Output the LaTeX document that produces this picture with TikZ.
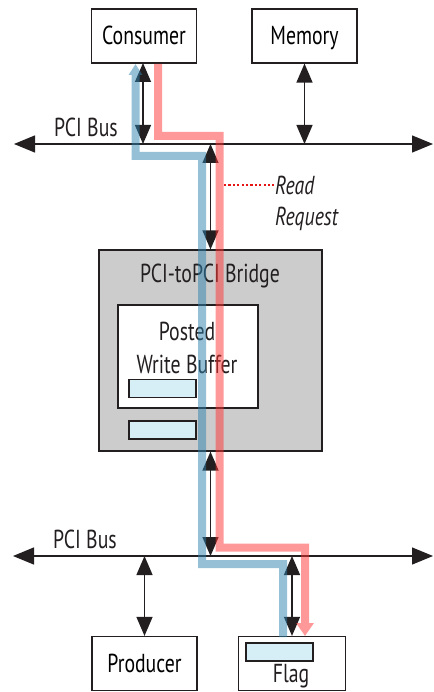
\documentclass[tikz,border=0pt]{standalone}
\usepackage{fontspec}
\setmainfont{PT Sans}[FakeStretch=0.76]
\usetikzlibrary{arrows.meta}
\definecolor{ink}{RGB}{35,31,32}
\definecolor{bridgegray}{RGB}{204,204,204}
\definecolor{cellblue}{RGB}{214,238,245}
\definecolor{pathblue}{RGB}{45,129,173}
\definecolor{pathred}{RGB}{255,51,51}
\definecolor{dotred}{RGB}{230,20,20}
\begin{document}
\begin{tikzpicture}[x=1pt,y=-1pt,
  font=\fontsize{26}{29}\selectfont,
  box/.style={draw=ink, line width=1.2pt, fill=white, minimum width=105pt, minimum height=54pt,
    inner sep=0pt, text height=17pt, text depth=0pt},
  cell/.style={draw=ink, line width=1.2pt, fill=cellblue, minimum width=67pt, minimum height=18pt, inner sep=0pt},
  lbl/.style={anchor=base, inner sep=0pt, text=ink},
  bus/.style={draw=ink, line width=1.3pt, {Triangle[width=17pt,length=21pt]}-{Triangle[width=17pt,length=21pt]}},
  dbl/.style={draw=ink, line width=1.3pt, {Triangle[width=16pt,length=19pt]}-{Triangle[width=16pt,length=19pt]}},
  bluepath/.style={draw=pathblue, line width=8pt},
  redpath/.style={draw=pathred, line width=8pt},
]
\useasboundingbox (0,0) rectangle (433,692);

% boxes
\node[box] (cons) at (144,36) {Consumer};
\node[box] (mem) at (304.5,36) {Memory};
\node[box] (prod) at (144.5,663.5) {Producer};
\node[box, minimum width=107pt] (flag) at (292,663.5) {};
\node[cell] (flagcell) at (279.5,652) {};
\node[lbl] (flagtxt) at (291,682) {Flag};

% bridge
\node[draw=ink, line width=1.2pt, fill=bridgegray, minimum width=223pt, minimum height=201pt, inner sep=0pt] (bridge) at (210.5,350.5) {};
\node[lbl] (bridgetxt) at (210,282) {PCI-toPCI Bridge};
\node[draw=ink, line width=1.2pt, fill=white, minimum width=140pt, minimum height=103pt, inner sep=0pt] (pwb) at (188,356.5) {};
\node[lbl] (posted) at (187,340) {Posted};
\node[lbl] (wbuf) at (187,373) {Write Buffer};
\node[cell] (cell1) at (162.5,388.5) {};
\node[cell] (cell2) at (162.5,430) {};

% buses
\coordinate (tbl) at (14,144);
\coordinate (tbr) at (433,144);
\coordinate (bbl) at (13,556);
\coordinate (bbr) at (433,556);
\draw[bus] (tbl) -- (tbr);
\draw[bus] (bbl) -- (bbr);
\node[lbl, anchor=base west] (tlab) at (54,137) {PCI Bus};
\node[lbl, anchor=base west] (blab) at (53,548) {PCI Bus};

% double arrows
\draw[dbl] (143,63) -- (143,144);
\draw[dbl] (mem.south) -- (mem.south |- tbr);
\draw[dbl] (bridge.north) -- (bridge.north |- tbr);
\draw[dbl] (bridge.south) -- (bridge.south |- bbr);
\draw[dbl] (prod.north) -- (prod.north |- bbr);
\draw[dbl] (flag.north) -- (flag.north |- bbr);

% read request
\coordinate (rq) at (224,185);
\node[lbl, anchor=base west] (readtxt) at (275,195) {\itshape Read};
\node[lbl, anchor=base west] (reqtxt) at (275,226) {\itshape Request};
\draw[dotred, line width=2.2pt, dash pattern=on 2.2pt off 2.2pt] (rq) -- (274,185);

% flow paths
\coordinate (b0) at (135.5,64);
\coordinate (b1) at (135.5,156);
\coordinate (b2) at (202,156);
\coordinate (b3) at (202,564);
\coordinate (b4) at (283,564);
\coordinate (b5) at (283,637);
\begin{scope}[transparency group, opacity=0.5]
\draw[bluepath, {Triangle[width=13pt,length=11pt]}-] (b0) -- (b1) -- (b2) -- (b3) -- (b4) -- (b5);
\end{scope}

\coordinate (r0) at (158,64);
\coordinate (r1) at (158,136);
\coordinate (r2) at (219.5,136);
\coordinate (r3) at (219.5,547.5);
\coordinate (r4) at (305,547.5);
\coordinate (r5) at (305,636);
\begin{scope}[transparency group, opacity=0.5]
\draw[redpath, -{Triangle[width=17pt,length=13pt]}] (r0) -- (r1) -- (r2) -- (r3) -- (r4) -- (r5);
\end{scope}
\end{tikzpicture}
\end{document}
